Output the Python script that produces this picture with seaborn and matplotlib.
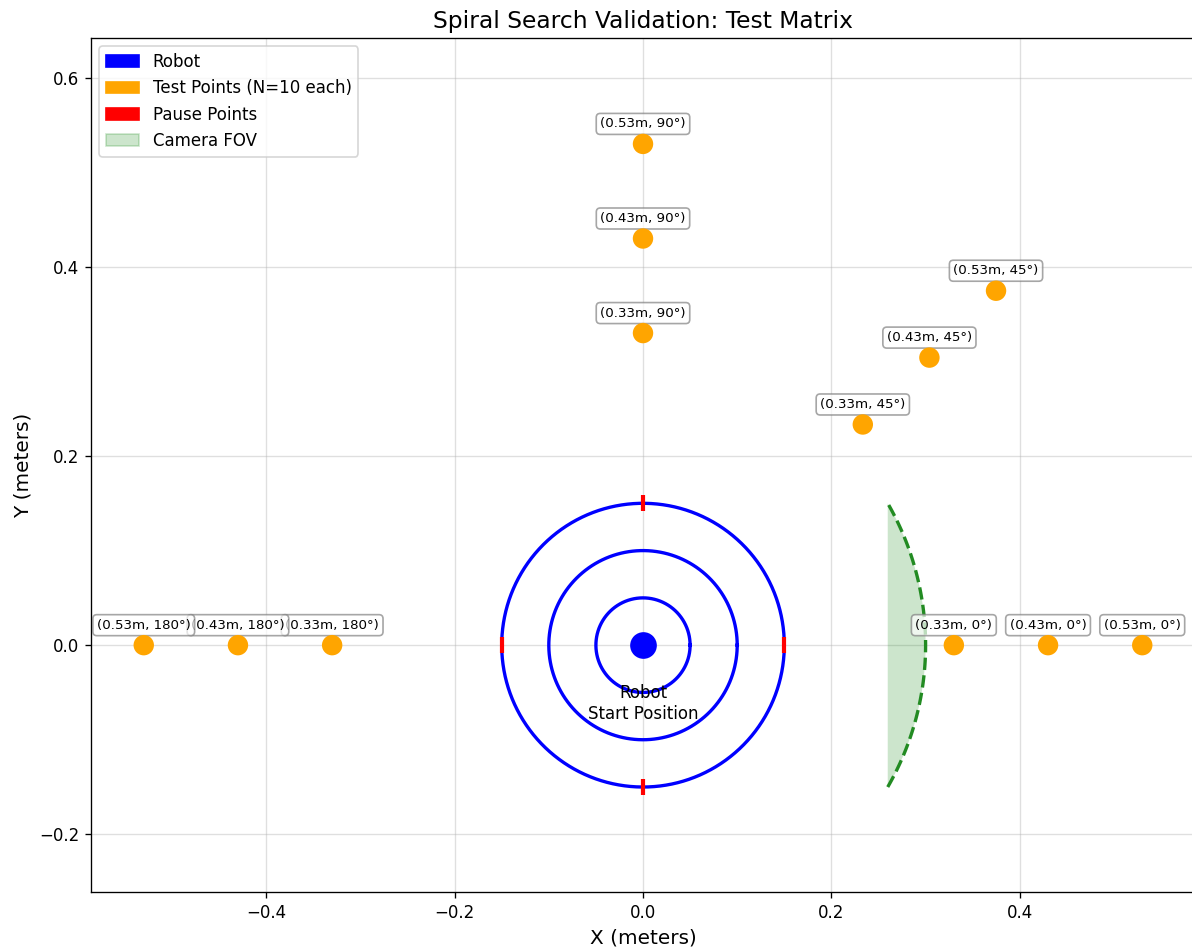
import numpy as np
import pandas as pd
import matplotlib
matplotlib.use("Agg")
import matplotlib.pyplot as plt
import matplotlib.patches as mpatches
import seaborn as sns

# Data
distances = [0.33, 0.43, 0.53]
angles_deg = [0, 45, 90, 180]
spiral_radii = [0.05, 0.10, 0.15]
pause_x = [0.15, 0.0, -0.15, 0.0]
pause_y = [0.0, 0.15, 0.0, -0.15]
fov_radius = 0.30
fov_half_angle_deg = 30

rows = []
for a in angles_deg:
    for d in distances:
        rows.append({"x": d * np.cos(np.radians(a)), "y": d * np.sin(np.radians(a)),
                     "label": f"({d:.2f}m, {a}°)"})
df = pd.DataFrame(rows)

fig = plt.figure(figsize=(1192 / 120, 952 / 120), dpi=120)
ax = fig.add_axes([91 / 1192, 60 / 952, 1104 / 1192, 854 / 952])

# Camera FOV
th = np.radians(np.linspace(-fov_half_angle_deg, fov_half_angle_deg, 100))
ax.fill(fov_radius * np.cos(th), fov_radius * np.sin(th), color="green", alpha=0.2, lw=0)
ax.plot(fov_radius * np.cos(th), fov_radius * np.sin(th), color="forestgreen", ls="--", lw=2)

# Spiral circles
t = np.linspace(0, 2 * np.pi, 300)
for r in spiral_radii:
    ax.plot(r * np.cos(t), r * np.sin(t), color="blue", lw=2)

# Pause points
ax.plot(pause_x, pause_y, "r|", markersize=10, mew=2.5, zorder=4)

# Robot
ax.plot([0], [0], "o", color="blue", markersize=15, zorder=5)
ax.text(0, -0.062, "Robot\nStart Position", ha="center", va="center", fontsize=10)

# Test points
sns.scatterplot(data=df, x="x", y="y", color="orange", s=150, edgecolor="none",
                ax=ax, zorder=5, legend=False)
for _, row in df.iterrows():
    ax.annotate(row["label"], (row["x"], row["y"]), xytext=(0, 12),
                textcoords="offset points", ha="center", va="center", fontsize=8,
                bbox=dict(boxstyle="round,pad=0.3", facecolor="white", edgecolor="gray", alpha=0.7))

ax.set_xlim(-0.586, 0.586)
ax.set_ylim(-0.261, 0.642)
ax.grid(True, alpha=0.4)
ax.set_axisbelow(True)
ax.set_xlabel("X (meters)", fontsize=12)
ax.set_ylabel("Y (meters)", fontsize=12)
ax.set_title("Spiral Search Validation: Test Matrix", fontsize=14)

handles = [
    mpatches.Patch(color="blue", label="Robot"),
    mpatches.Patch(color="orange", label="Test Points (N=10 each)"),
    mpatches.Patch(color="red", label="Pause Points"),
    mpatches.Patch(color="green", alpha=0.2, label="Camera FOV"),
]
ax.legend(handles=handles, loc="upper left", fontsize=10)

fig.savefig("out.png", dpi=120)
